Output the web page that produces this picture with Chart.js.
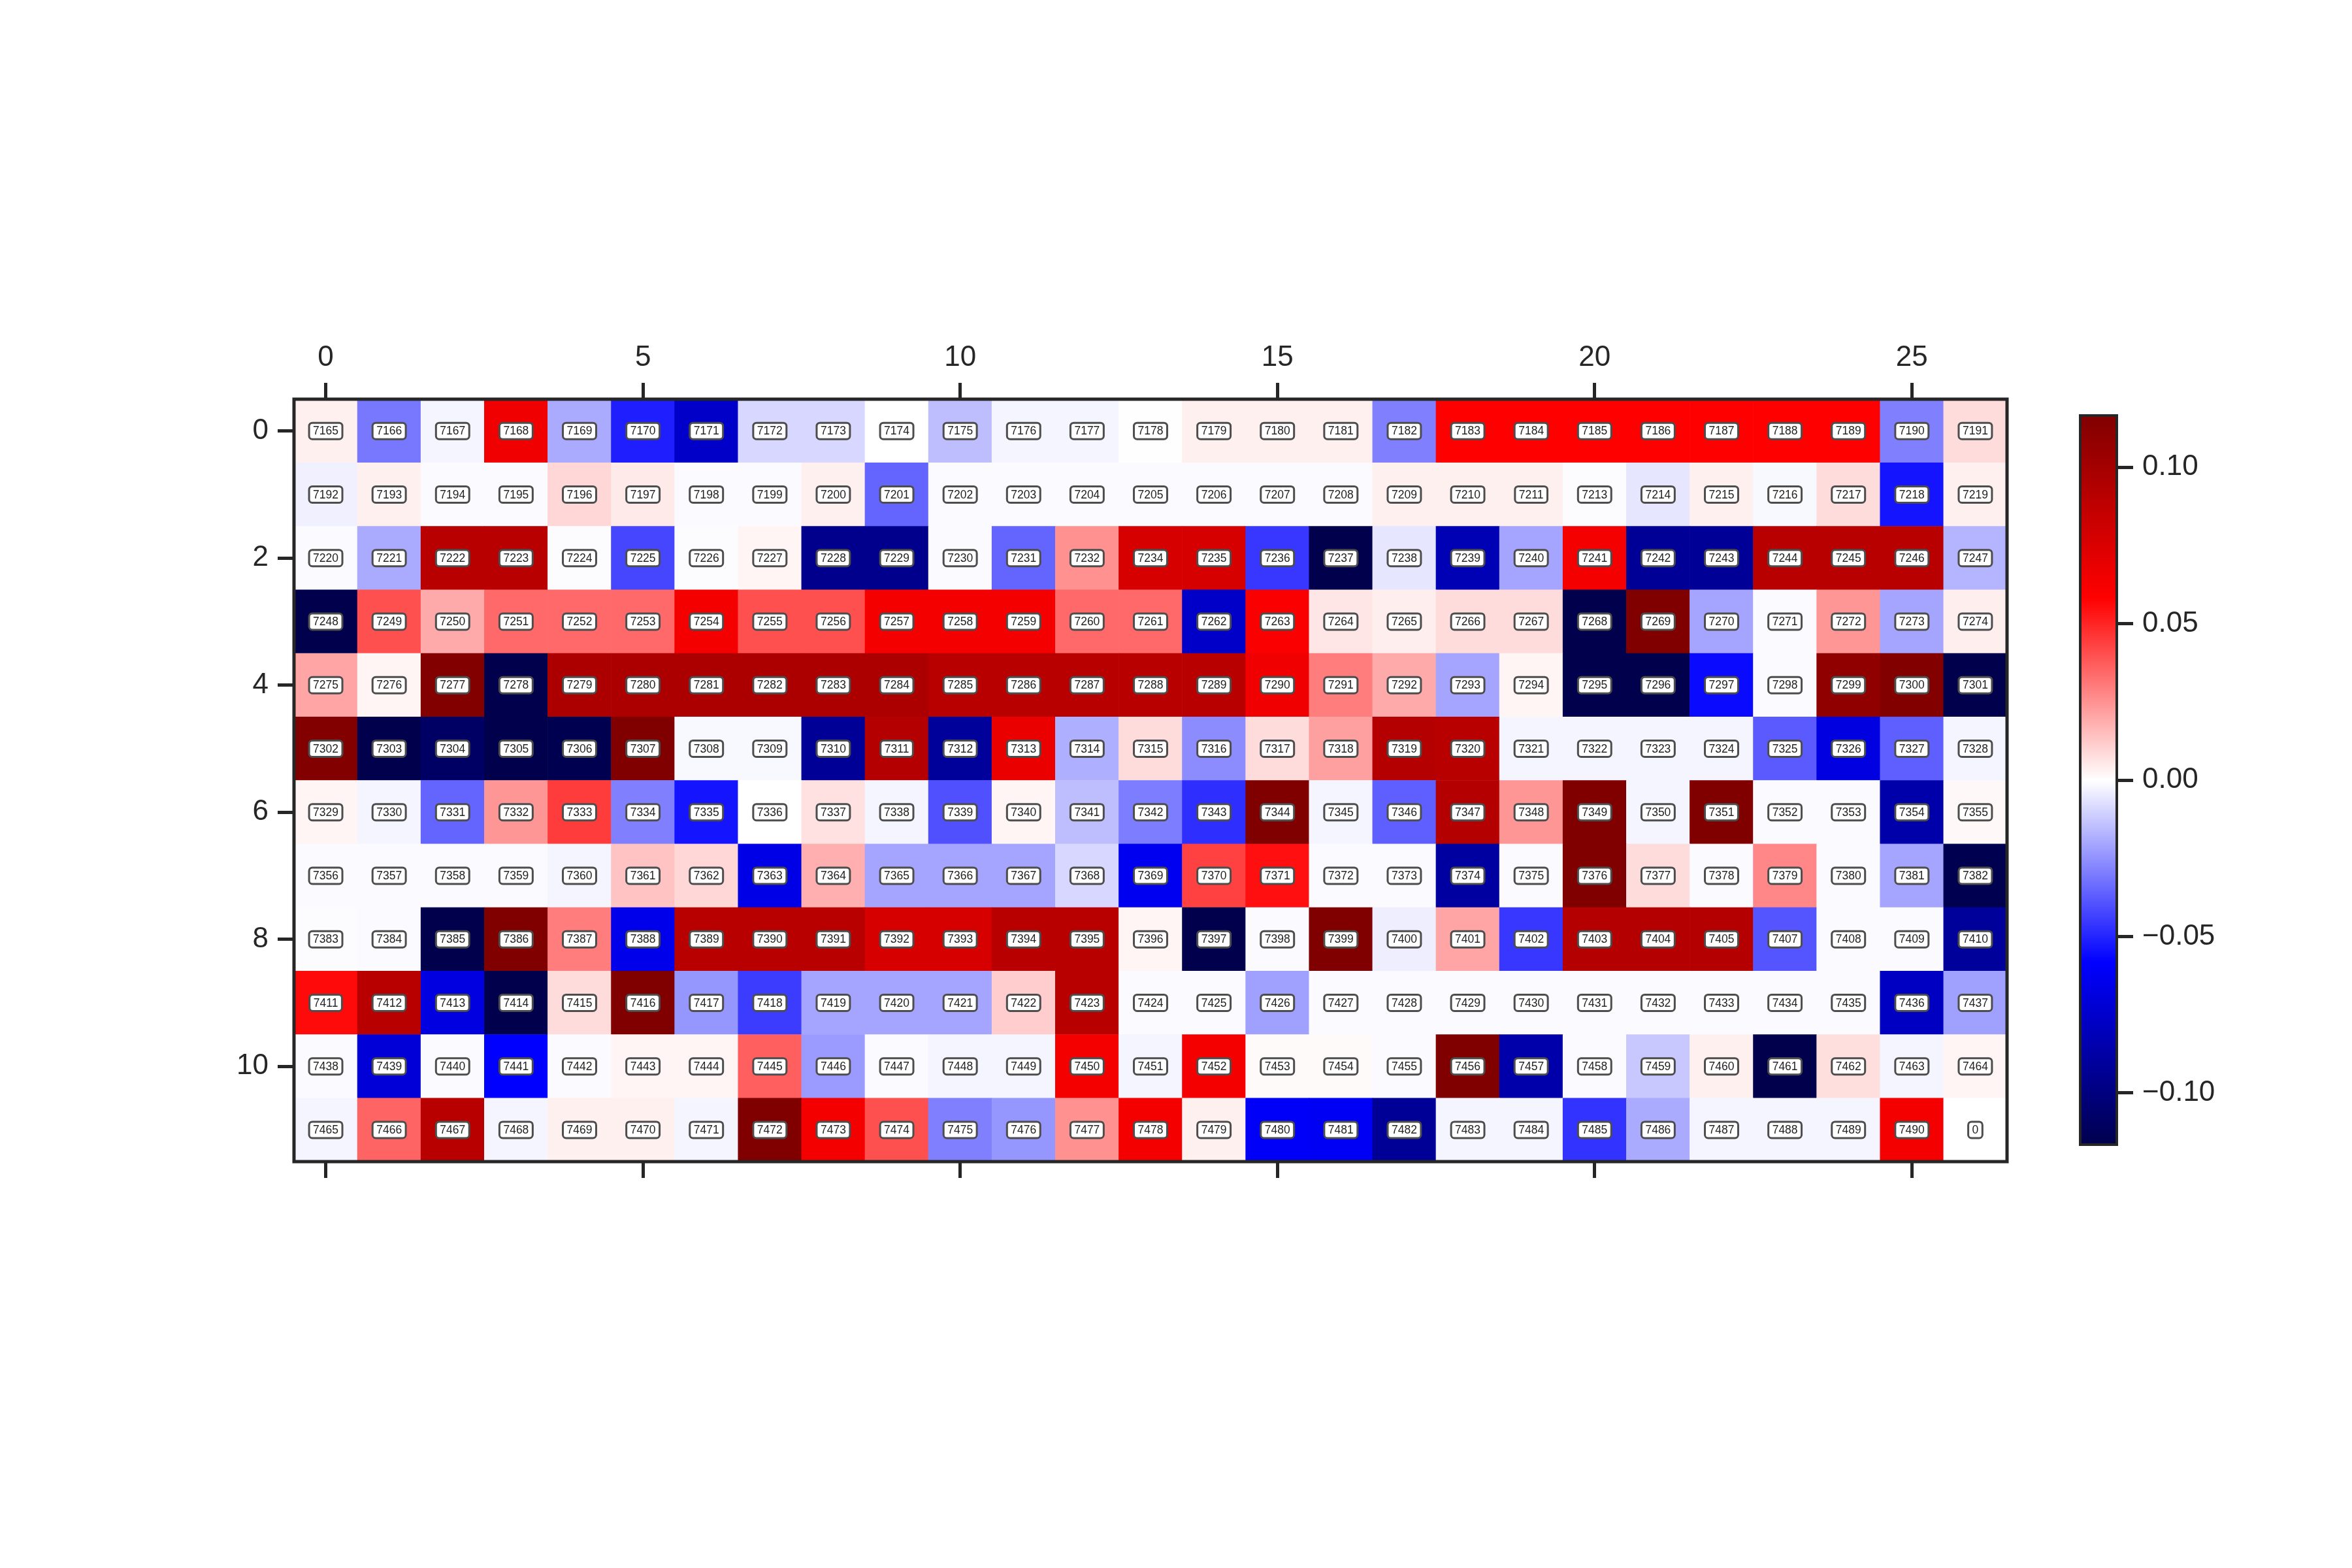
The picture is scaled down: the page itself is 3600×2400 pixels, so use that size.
<!DOCTYPE html>
<html><head><meta charset="utf-8">
<script src="https://cdn.jsdelivr.net/npm/chart.js@4.4.1/dist/chart.umd.min.js"></script>
<style>
html,body{margin:0;padding:0;background:#fff;width:3600px;height:2400px;overflow:hidden}
#main{position:absolute;left:0;top:0;width:3600px;height:2400px}
#cbar{position:absolute;left:3100px;top:560px;width:500px;height:1300px}
</style></head><body>
<canvas id="main" width="3600" height="2400"></canvas>
<canvas id="cbar" width="500" height="1300"></canvas>
<script>
// ---------- data ----------
const xTicks = [0, 5, 10, 15, 20, 25];
const yTicks = [0, 2, 4, 6, 8, 10];
const cbTicks = [-0.10, -0.05, 0.00, 0.05, 0.10];
const cbTickLabels = ['\u22120.10', '\u22120.05', '0.00', '0.05', '0.10'];
const vmin = -0.1165;
const vmax = 0.1165;

const row0 = [0.0035, -0.0309, -0.0023, 0.0652, -0.0195, -0.0513, -0.0762, -0.0091, -0.0091, 0.0000, -0.0148, -0.0023, -0.0023, 0.0002, 0.0035, 0.0035, 0.0035, -0.0291, 0.0583, 0.0583, 0.0583, 0.0583, 0.0583, 0.0583, 0.0583, -0.0291, 0.0080];
const row1 = [-0.0035, 0.0035, -0.0012, -0.0012, 0.0091, 0.0047, -0.0012, -0.0012, 0.0035, -0.0354, -0.0012, -0.0012, -0.0012, -0.0012, -0.0012, -0.0012, -0.0012, 0.0035, 0.0035, 0.0035, -0.0006, -0.0058, 0.0035, -0.0017, 0.0080, -0.0536, 0.0035];
const row2 = [-0.0012, -0.0195, 0.0903, 0.0903, -0.0006, -0.0423, -0.0006, 0.0023, -0.0958, -0.0958, -0.0012, -0.0354, 0.0252, 0.0765, 0.0765, -0.0457, -0.1165, -0.0058, -0.0827, -0.0205, 0.0629, -0.0925, -0.0925, 0.0903, 0.0903, 0.0903, -0.0171];
const row3 = [-0.1165, 0.0400, 0.0195, 0.0343, 0.0343, 0.0343, 0.0629, 0.0400, 0.0400, 0.0629, 0.0629, 0.0629, 0.0343, 0.0343, -0.0762, 0.0606, 0.0057, 0.0038, 0.0080, 0.0080, -0.1165, 0.1165, -0.0205, -0.0012, 0.0240, -0.0205, 0.0038];
const row4 = [0.0205, 0.0023, 0.1153, -0.1165, 0.0961, 0.0961, 0.0961, 0.0961, 0.0961, 0.0961, 0.0909, 0.0909, 0.0909, 0.0909, 0.0909, 0.0652, 0.0297, 0.0195, -0.0205, 0.0023, -0.1165, -0.1165, -0.0559, -0.0012, 0.1083, 0.1153, -0.1165];
const row5 = [0.1153, -0.1165, -0.1088, -0.1165, -0.1153, 0.1165, -0.0017, -0.0017, -0.0925, 0.0925, -0.0909, 0.0676, -0.0183, 0.0080, -0.0262, 0.0080, 0.0217, 0.0925, 0.0903, -0.0023, -0.0023, -0.0023, -0.0023, -0.0377, -0.0680, -0.0366, -0.0023];
const row6 = [0.0023, -0.0023, -0.0354, 0.0240, 0.0445, -0.0291, -0.0536, 0.0000, 0.0069, -0.0023, -0.0400, 0.0023, -0.0148, -0.0297, -0.0478, 0.1165, -0.0023, -0.0366, 0.0925, 0.0240, 0.1165, -0.0023, 0.1165, -0.0012, -0.0012, -0.0860, 0.0017];
const row7 = [-0.0012, -0.0012, -0.0012, -0.0012, -0.0023, 0.0137, 0.0091, -0.0664, 0.0183, -0.0205, -0.0205, -0.0205, -0.0091, -0.0631, 0.0435, 0.0548, -0.0012, -0.0012, -0.0892, -0.0012, 0.1165, 0.0080, -0.0012, 0.0274, -0.0012, -0.0205, -0.1153];
const row8 = [-0.0006, -0.0012, -0.1165, 0.1165, 0.0297, -0.0648, 0.0903, 0.0903, 0.0903, 0.0765, 0.0765, 0.0903, 0.0903, 0.0023, -0.1165, -0.0012, 0.1165, -0.0038, 0.0205, -0.0457, 0.0925, 0.0925, 0.0925, -0.0388, -0.0012, -0.0012, -0.0909];
const row9 = [0.0559, 0.0903, -0.0680, -0.1165, 0.0080, 0.1165, -0.0240, -0.0445, -0.0205, -0.0205, -0.0205, 0.0114, 0.0903, -0.0012, -0.0012, -0.0217, -0.0012, -0.0012, -0.0012, -0.0012, -0.0012, -0.0012, -0.0012, -0.0012, -0.0012, -0.0778, -0.0217];
const row10 = [-0.0012, -0.0713, -0.0012, -0.0583, -0.0012, 0.0023, 0.0023, 0.0366, -0.0228, -0.0012, -0.0023, -0.0023, 0.0629, -0.0023, 0.0629, 0.0012, 0.0012, -0.0012, 0.1165, -0.0860, -0.0012, -0.0126, 0.0035, -0.1165, 0.0076, -0.0023, 0.0023];
const row11 = [-0.0023, 0.0354, 0.0903, -0.0023, 0.0035, 0.0035, -0.0023, 0.1165, 0.0629, 0.0400, -0.0291, -0.0240, 0.0252, 0.0629, 0.0035, -0.0606, -0.0617, -0.0925, -0.0023, -0.0023, -0.0466, -0.0195, -0.0023, -0.0023, -0.0023, 0.0629, 0.0000];
const valueRows = [row0, row1, row2, row3, row4, row5, row6, row7, row8, row9, row10, row11];

const lab0 = [7165,7166,7167,7168,7169,7170,7171,7172,7173,7174,7175,7176,7177,7178,7179,7180,7181,7182,7183,7184,7185,7186,7187,7188,7189,7190,7191];
const lab1 = [7192,7193,7194,7195,7196,7197,7198,7199,7200,7201,7202,7203,7204,7205,7206,7207,7208,7209,7210,7211,7213,7214,7215,7216,7217,7218,7219];
const lab2 = [7220,7221,7222,7223,7224,7225,7226,7227,7228,7229,7230,7231,7232,7234,7235,7236,7237,7238,7239,7240,7241,7242,7243,7244,7245,7246,7247];
const lab3 = [7248,7249,7250,7251,7252,7253,7254,7255,7256,7257,7258,7259,7260,7261,7262,7263,7264,7265,7266,7267,7268,7269,7270,7271,7272,7273,7274];
const lab4 = [7275,7276,7277,7278,7279,7280,7281,7282,7283,7284,7285,7286,7287,7288,7289,7290,7291,7292,7293,7294,7295,7296,7297,7298,7299,7300,7301];
const lab5 = [7302,7303,7304,7305,7306,7307,7308,7309,7310,7311,7312,7313,7314,7315,7316,7317,7318,7319,7320,7321,7322,7323,7324,7325,7326,7327,7328];
const lab6 = [7329,7330,7331,7332,7333,7334,7335,7336,7337,7338,7339,7340,7341,7342,7343,7344,7345,7346,7347,7348,7349,7350,7351,7352,7353,7354,7355];
const lab7 = [7356,7357,7358,7359,7360,7361,7362,7363,7364,7365,7366,7367,7368,7369,7370,7371,7372,7373,7374,7375,7376,7377,7378,7379,7380,7381,7382];
const lab8 = [7383,7384,7385,7386,7387,7388,7389,7390,7391,7392,7393,7394,7395,7396,7397,7398,7399,7400,7401,7402,7403,7404,7405,7407,7408,7409,7410];
const lab9 = [7411,7412,7413,7414,7415,7416,7417,7418,7419,7420,7421,7422,7423,7424,7425,7426,7427,7428,7429,7430,7431,7432,7433,7434,7435,7436,7437];
const lab10 = [7438,7439,7440,7441,7442,7443,7444,7445,7446,7447,7448,7449,7450,7451,7452,7453,7454,7455,7456,7457,7458,7459,7460,7461,7462,7463,7464];
const lab11 = [7465,7466,7467,7468,7469,7470,7471,7472,7473,7474,7475,7476,7477,7478,7479,7480,7481,7482,7483,7484,7485,7486,7487,7488,7489,7490,0];
const labelRows = [lab0, lab1, lab2, lab3, lab4, lab5, lab6, lab7, lab8, lab9, lab10, lab11];

// ---------- style ----------
const INK = '#262626';
const FONT = '"Liberation Sans", Arial, sans-serif';
const TICK_FONT = { family: FONT, size: 44 };

// matplotlib "seismic" colormap
const SEISMIC = [[0, [0, 0, 76.5]], [0.25, [0, 0, 255]], [0.5, [255, 255, 255]], [0.75, [255, 0, 0]], [1, [127.5, 0, 0]]];
function seismic(t) {
  t = Math.max(0, Math.min(1, t));
  for (let i = 1; i < SEISMIC.length; i++) {
    if (t <= SEISMIC[i][0]) {
      const [t0, c0] = SEISMIC[i - 1], [t1, c1] = SEISMIC[i];
      const f = (t - t0) / (t1 - t0);
      return 'rgb(' + c0.map((c, k) => Math.round(c + (c1[k] - c) * f)).join(',') + ')';
    }
  }
  return 'rgb(127,0,0)';
}
const colorFor = v => seismic((v - vmin) / (vmax - vmin));

// ---------- build dataset from arrays ----------
const cells = [], cellColors = [];
valueRows.forEach((vals, r) => vals.forEach((v, c) => {
  cells.push({ x: c, y: [r - 0.5, r + 0.5] });
  cellColors.push(colorFor(v));
}));

const frameAndLabels = {
  id: 'frameAndLabels',
  afterDatasetsDraw(chart) {
    const { ctx, chartArea: a, scales: { x, y } } = chart;
    ctx.save();
    ctx.lineWidth = 5;
    ctx.strokeStyle = INK;
    ctx.strokeRect(a.left, a.top, a.right - a.left, a.bottom - a.top);
    ctx.font = '17.5px ' + FONT;
    ctx.textAlign = 'center';
    ctx.textBaseline = 'middle';
    labelRows.forEach((row, r) => row.forEach((lab, c) => {
      const cx = x.getPixelForValue(c), cy = y.getPixelForValue(r);
      const txt = String(lab);
      const tw = ctx.measureText(txt).width;
      const w = tw + 12, h = 25;
      ctx.beginPath();
      ctx.roundRect(cx - w / 2, cy - h / 2, w, h, 5);
      ctx.fillStyle = '#ffffff';
      ctx.fill();
      ctx.lineWidth = 3;
      ctx.strokeStyle = '#4d4d4d';
      ctx.stroke();
      ctx.fillStyle = '#222222';
      ctx.fillText(txt, cx, cy + 1);
    }));
    ctx.restore();
  }
};

const axisGrid = { display: true, drawOnChartArea: false, drawTicks: true, tickLength: 25, tickWidth: 5, tickColor: INK, offset: false };

new Chart(document.getElementById('main'), {
  type: 'bar',
  data: {
    datasets: [{
      data: cells,
      backgroundColor: cellColors,
      borderWidth: 0,
      barPercentage: 1,
      categoryPercentage: 1,
      xAxisID: 'x',
      yAxisID: 'y'
    }]
  },
  options: {
    responsive: false,
    animation: false,
    layout: { padding: { left: 0, top: 0, right: 528, bottom: 0 } },
    plugins: { legend: { display: false }, tooltip: { enabled: false } },
    scales: {
      x: {
        type: 'linear', axis: 'x', position: 'top', min: -0.5, max: 26.5, offset: false,
        afterBuildTicks: s => { s.ticks = xTicks.map(v => ({ value: v })); },
        afterFit: s => { s.height = 611; },
        grid: axisGrid, border: { display: false },
        ticks: { font: TICK_FONT, color: INK, padding: 12, maxRotation: 0, autoSkip: false }
      },
      x2: {
        type: 'linear', axis: 'x', position: 'bottom', min: -0.5, max: 26.5, offset: false,
        afterBuildTicks: s => { s.ticks = xTicks.map(v => ({ value: v })); },
        afterFit: s => { s.height = 622; },
        grid: axisGrid, border: { display: false },
        ticks: { display: false }
      },
      y: {
        type: 'linear', axis: 'y', position: 'left', reverse: true, min: -0.5, max: 11.5, offset: false,
        afterBuildTicks: s => { s.ticks = yTicks.map(v => ({ value: v })); },
        afterFit: s => { s.width = 450; },
        grid: axisGrid, border: { display: false },
        ticks: { font: TICK_FONT, color: INK, padding: 14, autoSkip: false }
      }
    }
  },
  plugins: [frameAndLabels]
});

// ---------- colorbar ----------
const cbFrame = {
  id: 'cbFrame',
  afterDatasetsDraw(chart) {
    const { ctx, chartArea: a } = chart;
    ctx.save();
    ctx.lineWidth = 4;
    ctx.strokeStyle = INK;
    ctx.strokeRect(a.left, a.top, a.right - a.left, a.bottom - a.top);
    ctx.restore();
  }
};

new Chart(document.getElementById('cbar'), {
  type: 'bar',
  data: {
    labels: ['colorbar'],
    datasets: [{
      data: [[vmin, vmax]],
      backgroundColor: (c) => {
        const chart = c.chart;
        if (!chart.chartArea) return 'rgba(0,0,0,0)';
        const ys = chart.scales.y;
        const g = chart.ctx.createLinearGradient(0, ys.getPixelForValue(vmin), 0, ys.getPixelForValue(vmax));
        SEISMIC.forEach(([t, col]) => g.addColorStop(t, 'rgb(' + col.map(Math.round).join(',') + ')'));
        return g;
      },
      borderWidth: 0,
      barPercentage: 1,
      categoryPercentage: 1
    }]
  },
  options: {
    responsive: false,
    animation: false,
    layout: { padding: { left: 84, top: 76, right: 160, bottom: 108 } },
    plugins: { legend: { display: false }, tooltip: { enabled: false } },
    scales: {
      x: { display: false },
      y: {
        position: 'right', min: vmin, max: vmax,
        afterBuildTicks: s => { s.ticks = cbTicks.map(v => ({ value: v })); },
        afterFit: s => { s.width = 200; },
        grid: axisGrid, border: { display: false },
        ticks: { font: TICK_FONT, color: INK, padding: 14, autoSkip: false, callback: (v, i) => cbTickLabels[i] }
      }
    }
  },
  plugins: [cbFrame]
});
</script>
</body></html>
